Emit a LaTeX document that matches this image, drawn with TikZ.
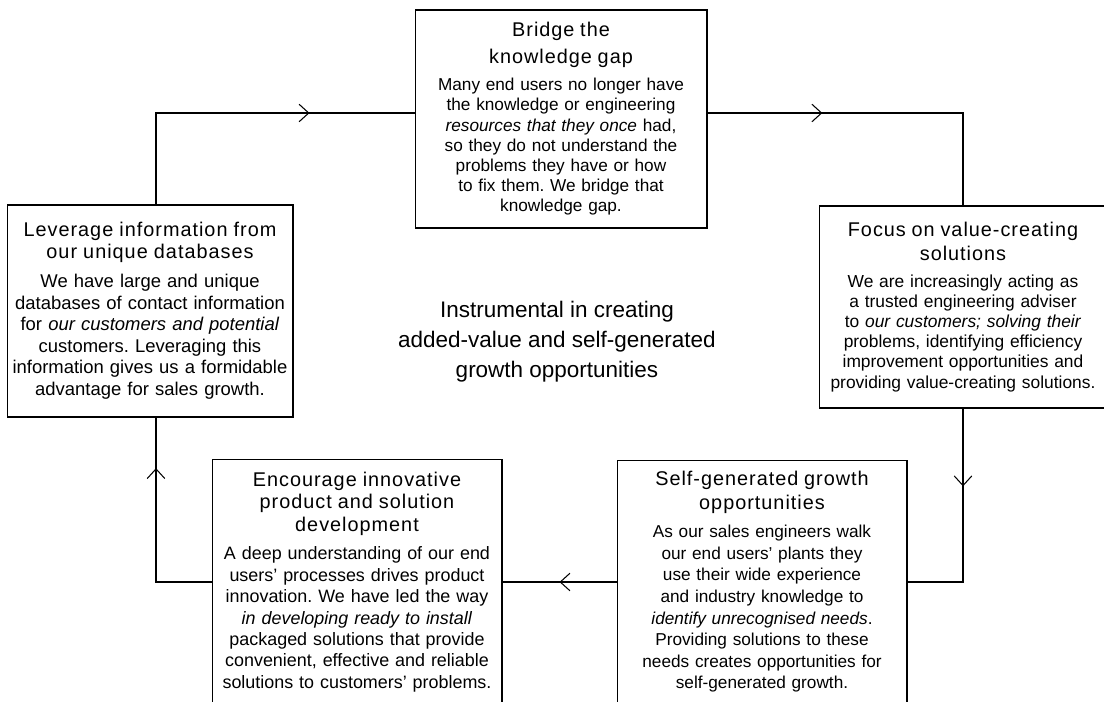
\documentclass[tikz,border=0pt]{standalone}
\usepackage{fontspec}
\setmainfont{Liberation Sans}
\usepackage{tikz}
\usetikzlibrary{arrows.meta,decorations.markings}
\frenchspacing

\newcommand{\boxtitle}[2][13.2]{{\fontsize{11.3}{#1}\selectfont\addfontfeature{LetterSpace=5}#2\par}\vspace{4pt}}

\begin{document}
\begin{tikzpicture}[x=0.02cm,y=-0.02cm,
    box/.style={draw,line width=0.6pt,align=center,inner sep=0pt,text width=5.6cm,
      font=\fontsize{9.8}{11.5}\selectfont},
    flow/.style={line width=0.6pt,
      decoration={markings,mark=at position #1 with {\arrow{Straight Barb[length=5.5pt,width=10pt]}}},
      postaction={decorate}}]
    \useasboundingbox (0,0) rectangle (1104,702);
    \clip (0,0) rectangle (1104,702);

    % the five boxes, clockwise from the top
    \node[box,minimum width=5.84cm,minimum height=4.36cm] (bridge) at (561,119)
      {\boxtitle[15.2]{Bridge the\\knowledge gap}
       Many end users no longer have\\the knowledge or engineering\\
       \textit{resources that they once} had,\\so they do not understand the\\
       problems they have or how\\to fix them. We bridge that\\knowledge gap.\par};
    \node[box,minimum width=5.76cm,minimum height=4.04cm,font=\fontsize{9.9}{11.4}\selectfont] (focus) at (963,307)
      {\boxtitle[13.7]{Focus on value-creating\\solutions}
       We are increasingly acting as\\a trusted engineering adviser\\
       to \textit{our customers; solving their}\\problems, identifying efficiency\\
       improvement opportunities and\\providing value-creating solutions.\par};
    \node[box,minimum width=5.8cm,minimum height=4.88cm,font=\fontsize{9.8}{12.3}\selectfont] (selfgen) at (762,582)
      {\boxtitle{Self-generated growth\\opportunities}
       As our sales engineers walk\\our end users' plants they\\
       use their wide experience\\and industry knowledge to\\
       \textit{identify unrecognised needs}.\\Providing solutions to these\\
       needs creates opportunities for\\self-generated growth.\par};
    \node[box,minimum width=5.8cm,minimum height=4.92cm,font=\fontsize{10.2}{12.2}\selectfont] (encourage) at (357,582)
      {\boxtitle[12.8]{Encourage innovative\\product and solution\\development}
       A deep understanding of our end\\users' processes drives product\\
       innovation. We have led the way\\\textit{in developing ready to install}\\
       packaged solutions that provide\\convenient, effective and reliable\\
       solutions to customers' problems.\par};
    \node[box,minimum width=5.72cm,minimum height=4.24cm,font=\fontsize{10.5}{12.3}\selectfont] (lever) at (150,311)
      {\boxtitle[12.5]{Leverage information from\\our unique databases}
       We have large and unique\\databases of contact information\\
       for \textit{our customers and potential}\\customers. Leveraging this\\
       information gives us a formidable\\advantage for sales growth.\par\vspace{8pt}};

    \node[align=center,font=\fontsize{12.8}{17}\selectfont] (centre) at (557,342)
      {Instrumental in creating\\added-value and self-generated\\growth opportunities};

    % the cycle
    \draw[flow=0.70] ([xshift=0.12cm]lever.north) |- ([yshift=0.12cm]bridge.west);
    \draw[flow=0.33] ([yshift=0.12cm]bridge.east) -| (focus.north);
    \draw[flow=0.34] (focus.south) |- (selfgen.east);
    \draw[flow=0.50] (selfgen.west) -- (encourage.east);
    \draw[flow=0.77] (encourage.west) -| ([xshift=0.12cm]lever.south);
\end{tikzpicture}
\end{document}
